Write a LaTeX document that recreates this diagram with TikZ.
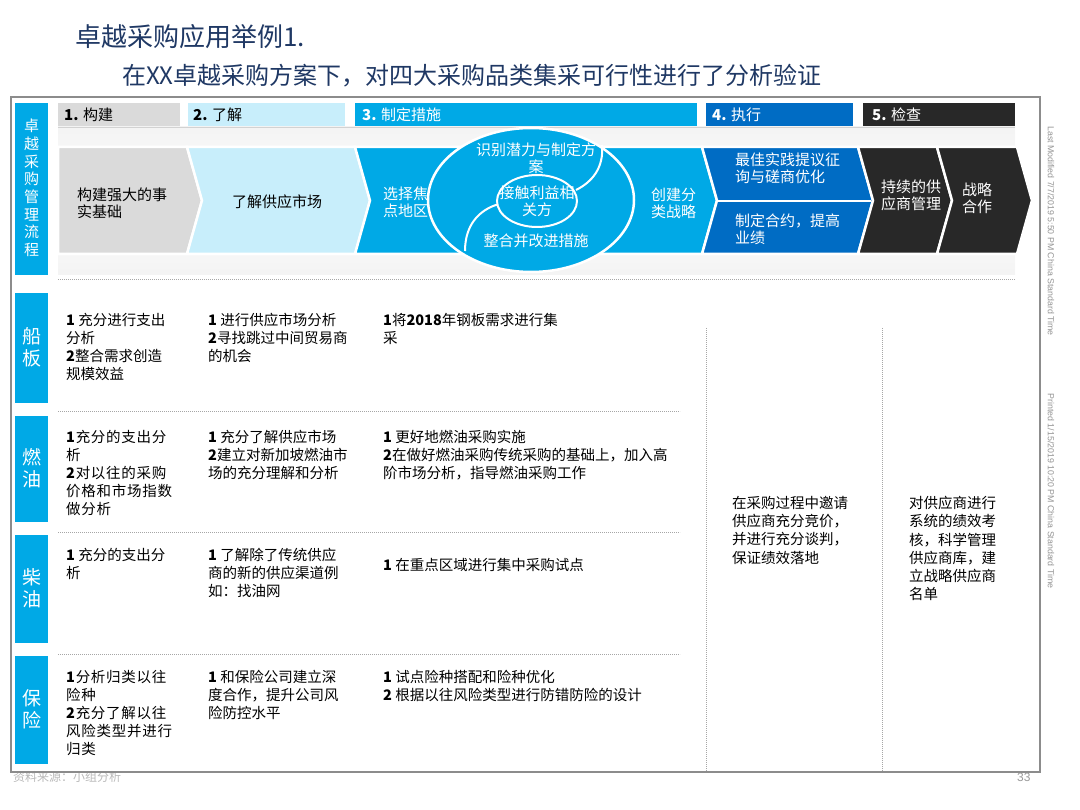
\documentclass[tikz,border=0pt]{standalone}
\usepackage{fontspec}
\setmainfont{Noto Sans CJK SC}
\newfontfamily\latinfont{Liberation Sans}
\definecolor{navy}{RGB}{31,56,100}
\definecolor{bblue}{RGB}{0,169,230}
\definecolor{lblue}{RGB}{200,238,251}
\definecolor{lgray}{RGB}{218,218,218}
\definecolor{dblue}{RGB}{0,108,196}
\definecolor{dgray}{RGB}{40,40,40}
\definecolor{framegray}{RGB}{140,140,140}
\newcommand\fsz[2]{\fontsize{#1}{#2}\selectfont}
\begin{document}
\begin{tikzpicture}[x=1pt,y=-1pt,
  txt/.style={anchor=north west, align=left, inner sep=0pt, font=\fsz{14.5}{18}, text=black},
  widetxt/.style={txt, font=\fsz{14.5}{18}\addfontfeature{LetterSpace=5}},
  sidetxt/.style={anchor=north west, align=left, inner sep=0pt, font=\fsz{14.5}{18.3}, text=black},
  chev/.style={draw=white, line width=2.5pt, line join=miter},
  chtxt/.style={anchor=west, align=left, inner sep=0pt, font=\fsz{15}{17}},
  tabtxt/.style={anchor=west, inner sep=0pt, font=\fsz{15}{17}},
  lab/.style={align=center, inner sep=0pt, text=white, font=\fsz{19}{22}},
  dots/.style={gray!70, line width=0.8pt, dash pattern=on 0.8pt off 1.2pt},
  wline/.style={white, line width=2pt}
]
\useasboundingbox (0,0) rectangle (1080,810);

% titles
\node[anchor=west, inner sep=0pt, text=navy, font=\fsz{26}{30}] (title) at (75,37) {卓越采购应用举例1.};
\node[anchor=west, inner sep=0pt, text=navy, font=\fsz{24}{27}] (subtitle) at (122,76) {在XX卓越采购方案下，对四大采购品类集采可行性进行了分析验证};

% footer
\node[anchor=west, inner sep=0pt, text=gray!55, font=\fsz{12}{14}] (src) at (13,777) {资料来源：小组分析};
\node[anchor=west, inner sep=0pt, text=gray!80, font=\latinfont\fsz{12}{14}] (pg) at (1017,777) {33};

% frame
\draw[framegray, line width=2.5pt] (11,97) rectangle (1040,772);

% right side vertical texts
\node[rotate=-90, inner sep=0pt, text=gray!85, font=\latinfont\fsz{8.8}{10}] (lm) at (1051,231) {Last Modified 7/7/2019 5:50 PM China Standard Time};
\node[rotate=-90, inner sep=0pt, text=gray!85, font=\latinfont\fsz{8.8}{10}] (pr) at (1051,491) {Printed 1/15/2019 10:20 PM China Standard Time};

% left process label
\fill[bblue] (15,103) rectangle (48,275);
\node[lab, font=\fsz{15}{17.7}] (proc) at (31.5,188) {卓\\越\\采\\购\\管\\理\\流\\程};

% tabs
\fill[lgray] (58,103) rectangle (180,126);
\fill[lblue] (188,103) rectangle (345,126);
\fill[bblue] (355,103) rectangle (697,126);
\fill[dblue] (706,103) rectangle (853,126);
\fill[dgray] (863,103) rectangle (1015,126);
\node[tabtxt] (t1) at (64,115) {\textbf{1.} 构建};
\node[tabtxt] (t2) at (193,115) {\textbf{2.} 了解};
\node[tabtxt, text=white] (t3) at (362,115) {\textbf{3.} 制定措施};
\node[tabtxt, text=white] (t4) at (712,115) {\textbf{4.} 执行};
\node[tabtxt, text=white] (t5) at (872,115) {\textbf{5.} 检查};

% chevron panel
\shade[top color=gray!9, bottom color=gray!9, middle color=white] (58,127) rectangle (1015,275);
\draw[gray!35, line width=0.6pt] (58,127.5) -- (1015,127.5);

% chevrons
\path[chev, fill=lgray] (58,147) -- (187,147) -- (202,200.5) -- (187,254) -- (58,254) -- cycle;
\path[chev, fill=lblue] (187,147) -- (355,147) -- (370,200.5) -- (355,254) -- (187,254) -- (202,200.5) -- cycle;
\path[chev, fill=bblue] (355,147) -- (702,147) -- (717,200.5) -- (702,254) -- (355,254) -- (370,200.5) -- cycle;
\path[chev, fill=dblue] (702,147) -- (858,147) -- (873,200.5) -- (858,254) -- (702,254) -- (717,200.5) -- cycle;
\path[chev, fill=dgray] (858,147) -- (937,147) -- (952,200.5) -- (937,254) -- (858,254) -- (873,200.5) -- cycle;
\path[chev, fill=dgray] (937,147) -- (1017,147) -- (1032,200.5) -- (1017,254) -- (937,254) -- (952,200.5) -- cycle;
\draw[white, line width=2.5pt] (717,201) -- (871,201);

% ellipse of step 3
\path[fill=bblue, draw=white, line width=2.5pt] (531,200) ellipse [x radius=103, y radius=72];
\draw[wline] (602,145) .. controls (604,168) and (592,182) .. (576,190);
\draw[wline] (499,204) .. controls (478,210) and (465,226) .. (465,251);
\path[fill=bblue, draw=white, line width=2pt] (537,201) ellipse [x radius=40, y radius=26];

% chevron texts
\node[chtxt] (c1) at (77,203.5) {构建强大的事\\实基础};
\node[chtxt, anchor=center] (c2) at (277,202) {了解供应市场};
\node[chtxt, text=white] (c3a) at (383,202) {选择焦\\点地区};
\node[chtxt, text=white, anchor=center, align=center] (c3b) at (536,158.5) {识别潜力与制定方\\案};
\node[chtxt, text=white, anchor=center, align=center] (c3c) at (537,201.5) {接触利益相\\关方};
\node[chtxt, text=white, anchor=center] (c3d) at (536,241) {整合并改进措施};
\node[chtxt, text=white] (c3e) at (651,203.5) {创建分\\类战略};
\node[chtxt, text=white] (c4a) at (735,168.5) {最佳实践提议征\\询与磋商优化};
\node[chtxt, text=white] (c4b) at (735,229.5) {制定合约，提高\\业绩};
\node[chtxt, text=white] (c5a) at (881,195.5) {持续的供\\应商管理};
\node[chtxt, text=white] (c5b) at (962,198) {战略\\合作};

% separators
\draw[dots] (58,279) -- (1015,279);
\draw[dots] (58,411) -- (680,411);
\draw[dots] (58,532) -- (680,532);
\draw[dots] (58,654) -- (680,654);
\draw[dots] (706,328) -- (706,771);
\draw[dots] (882,328) -- (882,771);

% row labels
\fill[bblue] (15,293) rectangle (48,403);
\fill[bblue] (15,416) rectangle (48,522);
\fill[bblue] (15,535) rectangle (48,643);
\fill[bblue] (15,656) rectangle (48,764);
\node[lab] (r1) at (31.5,347) {船\\板};
\node[lab] (r2) at (31.5,468) {燃\\油};
\node[lab] (r3) at (31.5,588) {柴\\油};
\node[lab] (r4) at (31.5,709) {保\\险};

% row 1
\node[txt] (r1a) at (66,313) {\textbf{1} 充分进行支出\\分析\\\textbf{2}整合需求创造\\规模效益};
\node[txt] (r1b) at (208,313) {\textbf{1} 进行供应市场分析\\\textbf{2}寻找跳过中间贸易商\\的机会};
\node[txt] (r1c) at (383,313) {\textbf{1}将\textbf{2018}年钢板需求进行集\\采};
% row 2
\node[widetxt] (r2a) at (66,430) {\textbf{1}充分的支出分\\析\\\textbf{2}对以往的采购\\价格和市场指数\\做分析};
\node[txt] (r2b) at (208,430) {\textbf{1} 充分了解供应市场\\\textbf{2}建立对新加坡燃油市\\场的充分理解和分析};
\node[txt] (r2c) at (383,430) {\textbf{1} 更好地燃油采购实施\\\textbf{2}在做好燃油采购传统采购的基础上，加入高\\阶市场分析，指导燃油采购工作};
% row 3
\node[txt] (r3a) at (66,548) {\textbf{1} 充分的支出分\\析};
\node[txt] (r3b) at (208,548) {\textbf{1} 了解除了传统供应\\商的新的供应渠道例\\如：找油网};
\node[txt] (r3c) at (383,558) {\textbf{1} 在重点区域进行集中采购试点};
% row 4
\node[widetxt] (r4a) at (66,670) {\textbf{1}分析归类以往\\险种\\\textbf{2}充分了解以往\\风险类型并进行\\归类};
\node[txt] (r4b) at (208,670) {\textbf{1} 和保险公司建立深\\度合作，提升公司风\\险防控水平};
\node[txt] (r4c) at (383,670) {\textbf{1}  试点险种搭配和险种优化\\\textbf{2} 根据以往风险类型进行防错防险的设计};

% columns 4 and 5
\node[sidetxt] (s4) at (732,496) {在采购过程中邀请\\供应商充分竞价，\\并进行充分谈判，\\保证绩效落地};
\node[sidetxt] (s5) at (909,496) {对供应商进行\\系统的绩效考\\核，科学管理\\供应商库，建\\立战略供应商\\名单};
\end{tikzpicture}
\end{document}
